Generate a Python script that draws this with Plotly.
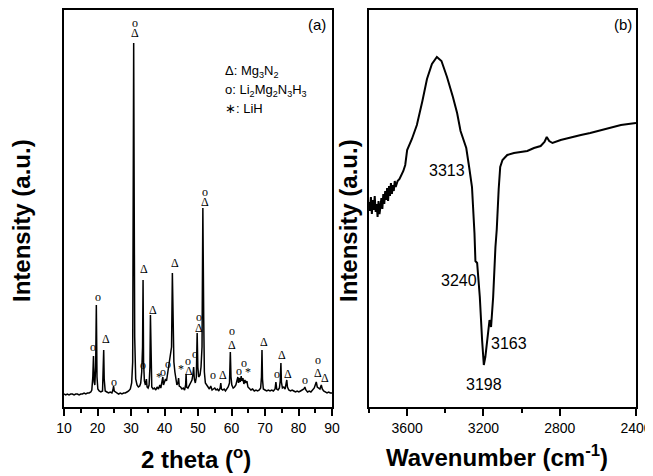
import plotly.graph_objects as go

# ---------------- data: panel (a) XRD ----------------
xrd_2theta = [10.0, 10.5, 11, 11.5, 12, 12.5, 13, 13.5, 14, 14.5, 15, 15.5, 16, 16.5, 17, 17.5, 18, 18.3,
              18.6, 18.8, 19.0, 19.2, 19.45, 19.65, 19.85, 20.1, 20.5, 21, 21.5,
              21.7, 21.85, 22.0, 22.3, 22.8, 23.3, 23.8, 24.3, 24.6, 24.8, 25.0, 25.4, 25.8, 26.3, 26.8, 27.3, 27.8,
              28.3, 28.8, 29.3, 29.8, 30.2, 30.5, 30.65, 30.8, 30.95, 31.1, 31.4, 31.8, 32.2, 32.6, 32.9, 33.2,
              33.45, 33.6, 33.75, 34.0, 34.3, 34.6, 34.8, 35.1, 35.4, 35.65, 35.8, 35.95, 36.2, 36.6, 37.0, 37.4,
              37.8, 38.2, 38.6, 38.9, 39.2, 39.5, 39.7, 40.0, 40.3, 40.6, 40.9, 41.2, 41.5, 41.8, 42.1, 42.35,
              42.55, 42.8, 43.1, 43.4, 43.7, 44.0, 44.2, 44.4, 44.8, 45.2, 45.6, 46.0, 46.3, 46.45, 46.6, 47.0,
              47.4, 47.8, 48.2, 48.5, 48.7, 48.9, 49.2, 49.5, 49.75, 49.95, 50.2, 50.6, 50.9, 51.2, 51.45, 51.7,
              51.9, 52.2, 52.6, 53.0, 53.4, 53.8, 54.2, 54.6, 55.0, 55.4, 55.8, 56.2, 56.6, 56.8, 57.0, 57.4,
              57.8, 58.2, 58.6, 59.0, 59.4, 59.65, 59.85, 60.1, 60.5, 60.9, 61.3, 61.6, 61.9, 62.1, 62.3, 62.6,
              62.9, 63.1, 63.4, 63.7, 64.0, 64.3, 64.6, 64.9, 65.3, 65.8, 66.3, 66.8, 67.3, 67.8, 68.3, 68.7,
              68.95, 69.1, 69.25, 69.5, 70.0, 70.5, 71.0, 71.5, 72.0, 72.5, 73.0, 73.25, 73.5, 73.9, 74.3, 74.55,
              74.75, 74.9, 75.2, 75.6, 76.0, 76.3, 76.5, 76.7, 77.1, 77.6, 78.1, 78.6, 79.1, 79.6, 80.1, 80.6,
              81.1, 81.6, 81.9, 82.2, 82.7, 83.2, 83.7, 84.2, 84.7, 85.0, 85.3, 85.6, 86.0, 86.4, 86.8, 87.1,
              87.5, 88.0, 88.5, 89.0, 89.5, 90.0]
xrd_intensity = [13, 12, 13, 12, 13, 13, 12, 13, 13, 12, 13, 13, 14, 13, 14, 14, 15, 17,
                 30, 51, 25, 22, 40, 102, 30, 18, 16, 15, 16,
                 35, 57, 28, 16, 15, 14, 15, 14, 17, 21, 16, 15, 14, 13, 14, 13, 14,
                 14, 15, 16, 18, 24, 45, 160, 364, 210, 70, 28, 22, 20, 21, 24, 35,
                 60, 127, 45, 26, 22, 28, 20, 19, 22, 40, 92, 35, 20, 18, 19, 17,
                 20, 18, 22, 19, 24, 30, 22, 25, 28, 26, 32, 38, 45, 50, 60, 134,
                 65, 45, 35, 26, 22, 24, 29, 21, 20, 18, 19, 17, 22, 33, 20, 19,
                 22, 24, 27, 33, 40, 28, 24, 30, 74, 40, 30, 32, 40, 60, 199, 90,
                 35, 24, 22, 19, 18, 21, 17, 18, 19, 17, 18, 16, 19, 24, 18, 17,
                 18, 16, 18, 20, 24, 55, 30, 22, 19, 20, 22, 26, 30, 24, 29, 25,
                 31, 26, 29, 23, 27, 24, 26, 20, 19, 17, 18, 16, 17, 16, 17, 19,
                 30, 57, 28, 18, 17, 16, 17, 16, 17, 16, 18, 25, 18, 17, 19, 26,
                 44, 25, 19, 20, 18, 22, 27, 20, 17, 16, 17, 16, 15, 16, 15, 16,
                 17, 18, 20, 17, 15, 16, 15, 17, 19, 22, 25, 20, 19, 18, 22, 18,
                 16, 15, 14, 15, 14, 14]

# phase marks above the peaks (o: Li2Mg2N3H3, Δ: Mg3N2, *: LiH)
mark_2theta = [18.75, 20.1, 22.5, 24.9, 31.2, 31.2, 33.5, 34.0, 36.5, 38.4, 39.6, 41.0, 43.0, 44.9,
               46.9, 47.2, 49.1, 50.4, 50.4, 52.0, 52.0, 54.6, 57.4, 60.2, 60.2, 62.1, 63.8, 65.0,
               69.7, 73.7, 75.1, 76.8, 81.9, 85.9, 85.7, 87.9]
mark_intensity = [60, 110, 68, 25, 384, 374, 42, 138, 97, 30, 35, 43, 144, 38,
                  46, 36, 53, 90, 79, 215, 205, 32, 32, 76, 62, 36, 44, 35,
                  65, 33, 52, 33, 27, 47, 34, 29]
mark_text = ["o", "o", "Δ", "o", "o", "Δ", "o", "Δ", "Δ", "*", "o", "o", "Δ", "*",
             "o", "Δ", "o", "o", "Δ", "o", "Δ", "o", "Δ", "o", "Δ", "o", "o", "*",
             "Δ", "o", "Δ", "Δ", "o", "o", "Δ", "Δ"]

legend_lines = ["Δ: Mg<sub>3</sub>N<sub>2</sub>",
                "o: Li<sub>2</sub>Mg<sub>2</sub>N<sub>3</sub>H<sub>3</sub>",
                "∗: LiH"]

# ---------------- data: panel (b) IR ----------------
ir_wavenumber = [3800, 3795, 3790, 3785, 3780, 3775, 3770, 3765, 3760, 3755, 3750, 3745, 3740, 3735,
                 3730, 3725, 3720, 3715, 3710, 3705, 3700, 3695, 3690, 3685, 3680, 3675, 3670, 3665,
                 3660, 3650, 3640, 3630, 3620, 3610, 3600, 3575, 3549, 3520, 3496, 3470, 3444, 3420,
                 3391, 3360, 3338, 3320, 3303, 3290, 3275, 3260, 3247, 3242, 3233, 3219, 3207, 3198,
                 3190, 3181, 3168, 3160, 3149, 3137, 3130, 3120, 3112, 3100, 3075, 3040, 3005, 2970,
                 2935, 2900, 2880, 2868, 2855, 2838, 2795, 2740, 2689, 2640, 2584, 2530, 2479, 2440, 2400]
ir_intensity = [205, 196, 210, 193, 207, 197, 211, 195, 203, 190, 206, 193, 200, 209,
                198, 213, 203, 216, 207, 219, 206, 221, 211, 224, 213, 222, 216, 226,
                220, 226, 228, 232, 236, 242, 257, 268, 282, 306, 328, 343, 350, 346,
                330, 310, 294, 276, 265, 259, 240, 220, 174, 146, 144, 110, 67, 42,
                50, 64, 87, 80, 110, 160, 178, 218, 240, 247, 252, 254, 255, 256,
                259, 261, 265, 270, 266, 264, 267, 270, 272, 274, 277, 280, 282, 283, 284]

ir_label_w = [3389, 3330, 3067, 3198]
ir_label_i = [237, 127, 64, 23]
ir_label_text = ["3313", "3240", "3163", "3198"]

# ---------------- figure ----------------
FONT = "Liberation Sans, Arial, Helvetica, sans-serif"
SERIF = "Liberation Serif, Times New Roman, serif"

# page body has an 8px margin: figure is drawn 8px in from the window corner
OFF = 8
W, H = 653 - OFF, 476 - OFF


def px(X):
    return (X - OFF) / W


def py(Y):
    return 1 - (Y - OFF) / H


fig = go.Figure()
fig.add_trace(go.Scatter(x=xrd_2theta, y=xrd_intensity, mode="lines",
                         line=dict(color="black", width=1.5), xaxis="x", yaxis="y",
                         showlegend=False, hoverinfo="skip"))
fig.add_trace(go.Scatter(x=ir_wavenumber, y=ir_intensity, mode="lines",
                         line=dict(color="black", width=2), xaxis="x2", yaxis="y2",
                         showlegend=False, hoverinfo="skip"))

y_range = [0, 397]
axis_common = dict(showline=True, linecolor="black", linewidth=2, mirror=True,
                   showgrid=False, zeroline=False, automargin=False)

fig.update_layout(
    template="none",
    width=W, height=H,
    margin=dict(l=0, r=0, t=0, b=0, pad=0),
    paper_bgcolor="white", plot_bgcolor="white",
    font=dict(family=FONT, color="black"),
    xaxis=dict(domain=[px(64), px(332)], range=[10, 90], tickvals=list(range(10, 91, 10)),
               ticks="outside", ticklen=7, tickwidth=2, tickcolor="black",
               minor=dict(dtick=5, tick0=5, ticks="outside", ticklen=4, tickwidth=2, tickcolor="black"),
               tickfont=dict(size=14, family=FONT), anchor="y", **axis_common),
    yaxis=dict(domain=[py(407), py(10)], range=y_range, showticklabels=False,
               ticks="", anchor="x", **axis_common),
    xaxis2=dict(domain=[px(369), px(636)], range=[3800, 2400], tickvals=[3600, 3200, 2800, 2400],
                ticks="outside", ticklen=7, tickwidth=2, tickcolor="black",
                minor=dict(tickvals=[3800, 3400, 3000], ticks="outside", ticklen=4, tickwidth=2,
                           tickcolor="black"),
                tickfont=dict(size=14, family=FONT), anchor="y2", **axis_common),
    yaxis2=dict(domain=[py(407), py(10)], range=y_range, showticklabels=False,
                ticks="", anchor="x2", **axis_common),
)

ann = []
# phase marks
for x, y, t in zip(mark_2theta, mark_intensity, mark_text):
    ann.append(dict(x=x, y=y, xref="x", yref="y", text=t, showarrow=False,
                    xanchor="center", yanchor="middle",
                    font=dict(size=12, family=SERIF, color="black")))
# legend text
for i, t in enumerate(legend_lines):
    ann.append(dict(x=57.5, y=335 - 18 * i, xref="x", yref="y", text=t, showarrow=False,
                    xanchor="left", yanchor="middle", font=dict(size=13, family=FONT, color="black")))
# IR labels
for x, y, t in zip(ir_label_w, ir_label_i, ir_label_text):
    ann.append(dict(x=x, y=y, xref="x2", yref="y2", text=t, showarrow=False,
                    xanchor="center", yanchor="middle",
                    font=dict(size=16, family=FONT, color="black")))


def paper_text(X, Y, text, size, angle=0):
    ann.append(dict(x=px(X), y=py(Y), xref="paper", yref="paper", text=text, showarrow=False,
                    xanchor="center", yanchor="middle", textangle=angle,
                    font=dict(size=size, family=FONT, color="black")))


paper_text(317, 25, "(a)", 15)
paper_text(623, 25, "(b)", 15)
paper_text(196, 458, "<b>2 theta (<sup>o</sup>)</b>", 24)
paper_text(497, 456, "<b>Wavenumber (cm<sup>-1</sup>)</b>", 24)
paper_text(22, 221, "<b>Intensity (a.u.)</b>", 24, -90)
paper_text(349, 221, "<b>Intensity (a.u.)</b>", 24, -90)
fig.update_layout(annotations=ann)

fig.write_html("out.html")
